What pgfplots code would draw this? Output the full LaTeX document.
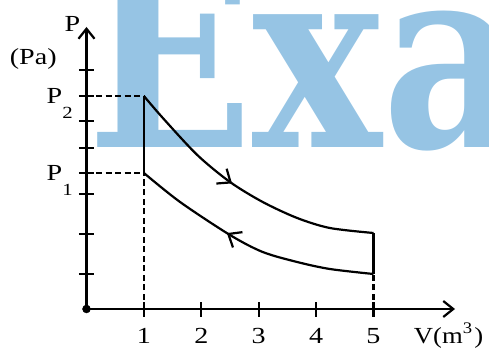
\documentclass[border=0pt]{standalone}
\usepackage{fontspec}
\setmainfont{Liberation Serif}
\newfontfamily\wmfont{DejaVu Serif}
\usepackage{pgfplots}
\pgfplotsset{compat=1.18}
\usetikzlibrary{arrows.meta,decorations.markings}
\definecolor{wmblue}{RGB}{150,196,228}

% lowered subscript, as in the figure
\newcommand\sub[1]{\rlap{\smash{\raisebox{-15pt}{\fontsize{17}{17}\selectfont #1}}}}

\tikzset{
  barb/.style={-{Straight Barb[length=10pt,width=16pt]}},
  flowarrow/.style={postaction={decorate},
    decoration={markings, mark=at position #1 with {\arrow{Straight Barb[length=11pt,width=18pt]}}}},
  lbl/.style={font=\fontsize{23}{23}\selectfont, xscale=1.22, inner sep=0pt},
}

\begin{document}
\begin{tikzpicture}[x=1pt,y=1pt]
\useasboundingbox (-86.5,-39) rectangle (402.5,309);
\clip (-86.5,-39) rectangle (402.5,309);
% watermark
\node[anchor=base west, inner sep=0, text=wmblue, xscale=0.85,
  font=\wmfont\bfseries\fontsize{256}{256}\selectfont] at (0.5,161) {Exa};
\begin{axis}[
  anchor=origin, at={(0,0)},
  x=57.4pt, y=10pt,
  xmin=0, xmax=6.42, ymin=0, ymax=28.2,
  clip=false,
  axis lines=left,
  axis line style={line width=2.2pt, barb},
  tick align=center,
  major tick length=15pt,
  every tick/.style={black, line width=2.2pt},
  xtick={1,2,3,4,5},
  xticklabels={1,2,3,4,5},
  ytick={3.5,7.5,11.5,13.6,16.1,18.8,21.3,23.9},
  yticklabels={,,,{P\sub{1}},,,{P\sub{2}},},
  tick label style={lbl},
  xticklabel style={anchor=north, yshift=-12pt},
  yticklabel style={anchor=east, xshift=-13.5pt},
  xlabel={V(m\textsuperscript{3}\kern1.5pt)},
  xlabel style={lbl, xscale=0.95, at={(axis description cs:0.888,-0.1206)}, anchor=base west},
  extra description/.code={
    \node[lbl] at (axis description cs:-0.038,1.01) {P};
    \node[lbl] at (axis description cs:-0.1445,0.888) {(Pa)};
  },
]
% dashed guides
\addplot[line width=2.2pt, dash pattern=on 6pt off 3.5pt] coordinates {(0,21.3) (1,21.3)};
\addplot[line width=2.2pt, dash pattern=on 6pt off 3.5pt] coordinates {(0,13.6) (1,13.6)};
\addplot[line width=2.2pt, dash pattern=on 6pt off 3.5pt] coordinates {(1,0) (1,13.6)};
\addplot[line width=2.2pt, dash pattern=on 6pt off 3.5pt] coordinates {(5,0) (5,3.5)};
% vertical legs of the cycle
\addplot[line width=2.2pt] coordinates {(1,13.6) (1,21.3)};
\addplot[line width=2.2pt] coordinates {(5,3.5) (5,7.6)};
% upper curve, V = 1 -> 5
\addplot[line width=2.2pt, smooth, flowarrow=0.45] coordinates {
  (1,21.3) (1.33,19.1) (1.93,15.4) (2.5,12.7) (3.07,10.7) (3.67,9.1) (4.24,8.1) (5,7.6)};
% lower curve, V = 5 -> 1
\addplot[line width=2.2pt, smooth, flowarrow=0.6] coordinates {
  (5,3.5) (4.24,4.0) (3.67,4.7) (3.07,5.7) (2.5,7.4) (1.63,10.7) (1,13.6)};
% origin dot
\addplot[only marks, mark=*, mark size=4pt, black] coordinates {(0,0)};
\end{axis}
\end{tikzpicture}
\end{document}
